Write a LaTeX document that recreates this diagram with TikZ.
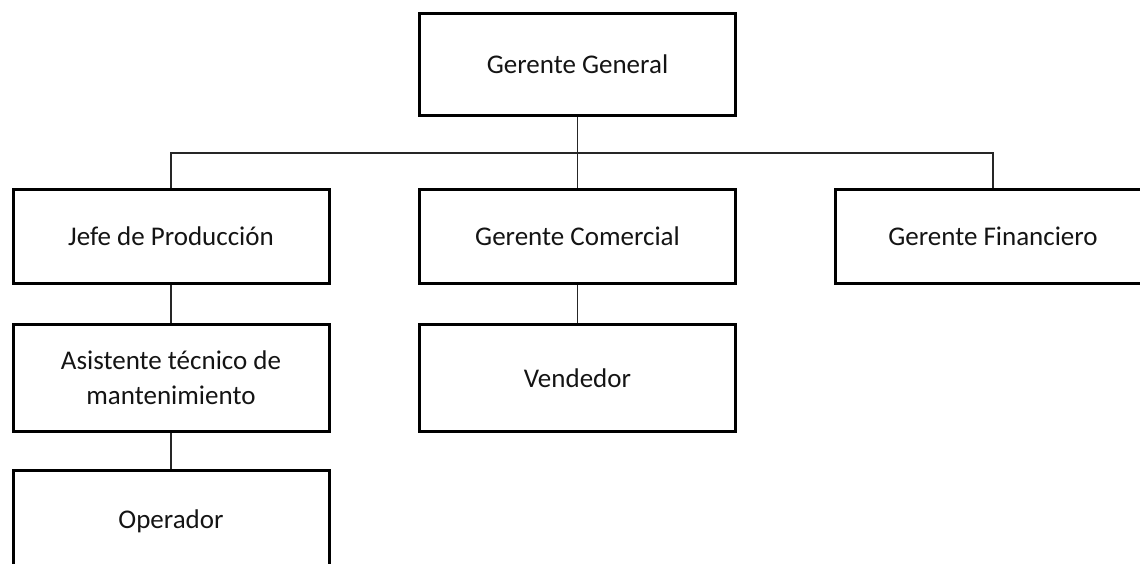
\documentclass[tikz,border=0pt]{standalone}
\usepackage{fontspec}
\setmainfont{Carlito}
\begin{document}
\begin{tikzpicture}[x=1pt,y=-1pt,
  box/.style={draw=black, line width=3pt, inner sep=0pt, align=center,
    minimum width=316pt, text=black!92,
    font=\fontsize{27}{35}\selectfont},
  link/.style={draw=black!85, line width=1.4pt}]
\useasboundingbox (0,0) rectangle (1140,563);
\clip (0,0) rectangle (1140,563);

% top level
\node[box, minimum height=102pt] (gg) at (577.5,64.5) {Gerente General};

% second level
\node[box, minimum height=94pt] (jp) at (171,236.5) {Jefe de Producción};
\node[box, minimum height=94pt] (gc) at (577.5,236.5) {Gerente Comercial};
\node[box, minimum height=94pt] (gf) at (993,236.5) {Gerente Financiero};

% third level
\node[box, minimum height=107pt] (at) at (171,378) {Asistente técnico de\\mantenimiento};
\node[box, minimum height=107pt] (vd) at (577.5,378) {Vendedor};

% fourth level
\node[box, minimum height=102pt] (op) at (171,521.5) {Operador};

% connectors
\coordinate (bus) at (577.5,153);
\draw[link] (gg.south) -- (bus);
\draw[link] (jp.north) |- (bus) -| (gf.north);
\draw[link] (bus) -- (gc.north);
\draw[link] (jp.south) -- (at.north);
\draw[link] (at.south) -- (op.north);
\draw[link] (gc.south) -- (vd.north);
\end{tikzpicture}
\end{document}
